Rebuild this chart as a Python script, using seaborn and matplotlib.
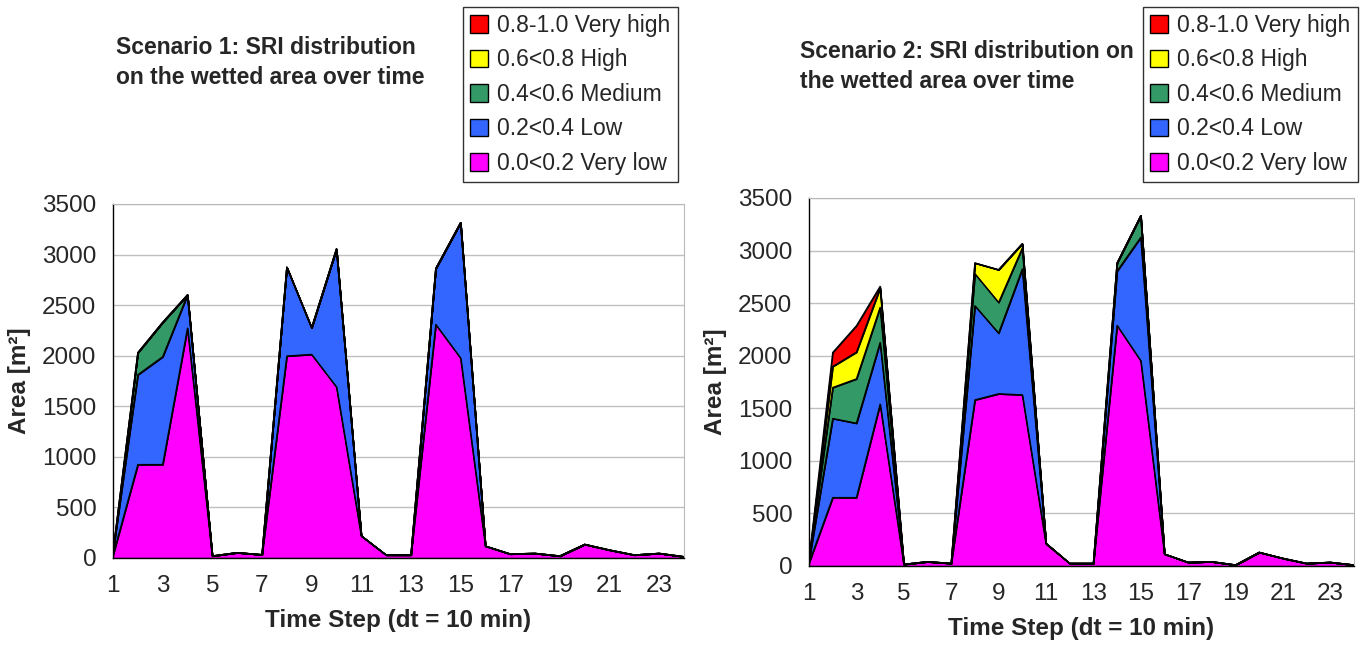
import matplotlib
matplotlib.use("Agg")
from matplotlib import pyplot as plt
from matplotlib.patches import Patch
import numpy as np
import pandas as pd
import seaborn as sns

# time steps (dt = 10 min)
steps = list(range(1, 25))

classes = ["0.0<0.2 Very low", "0.2<0.4 Low", "0.4<0.6 Medium", "0.6<0.8 High", "0.8-1.0 Very high"]
class_colors = ["#FF00FF", "#3366FF", "#339966", "#FFFF00", "#FF0000"]

# Scenario 1: area per SRI class [m2]
s1_very_low = [30, 924, 924, 2273, 20, 53, 33, 1997, 2013, 1691, 217, 30,
               30, 2309, 1977, 118, 40, 46, 20, 135, 79, 30, 46, 13]
s1_low = [30, 888, 1066, 329, 0, 0, 0, 878, 263, 1365, 3, 0,
          0, 553, 1339, 0, 0, 0, 0, 0, 0, 0, 0, 0]
s1_medium = [0, 218, 340, 0, 0, 0, 0, 0, 0, 0, 0, 0,
             0, 0, 0, 0, 0, 0, 0, 0, 0, 0, 0, 0]
s1_high = [0] * 24
s1_very_high = [0] * 24

# Scenario 2: area per SRI class [m2]
s2_very_low = [30, 651, 651, 1539, 16, 41, 25, 1580, 1638, 1628, 210, 25,
               25, 2288, 1952, 114, 35, 41, 10, 130, 73, 25, 35, 10]
s2_low = [20, 752, 707, 587, 0, 0, 0, 895, 577, 1197, 6, 0,
          0, 517, 1174, 0, 0, 0, 0, 0, 0, 0, 0, 0]
s2_medium = [10, 295, 422, 334, 0, 0, 0, 305, 292, 199, 0, 0,
             0, 77, 206, 0, 0, 0, 0, 0, 0, 0, 0, 0]
s2_high = [0, 200, 254, 184, 0, 0, 0, 102, 311, 42, 0, 0,
           0, 0, 0, 0, 0, 0, 0, 0, 0, 0, 0, 0]
s2_very_high = [0, 133, 251, 16, 0, 0, 0, 0, 0, 0, 0, 0,
                0, 0, 0, 0, 0, 0, 0, 0, 0, 0, 0, 0]

scenarios = [
    ("Scenario 1: SRI distribution\non the wetted area over time",
     [s1_very_low, s1_low, s1_medium, s1_high, s1_very_high]),
    ("Scenario 2: SRI distribution on\nthe wetted area over time",
     [s2_very_low, s2_low, s2_medium, s2_high, s2_very_high]),
]

sns.set_style("white")
plt.rcParams["font.family"] = ["Liberation Sans", "DejaVu Sans"]

W, H = 1360, 653
fig = plt.figure(figsize=(W / 100, H / 100), dpi=100)

# pixel boxes of the plot areas: (left, top, right, bottom)
boxes = [(113, 204, 684, 558), (809, 198, 1354, 566)]
title_pos = [(116, 36), (800, 40)]
legend_pos = [(463, 7), (1143, 7)]

for (title, series), box, tpos, lpos in zip(scenarios, boxes, title_pos, legend_pos):
    l, t, r, b = box
    ax = fig.add_axes([l / W, 1 - b / H, (r - l) / W, (b - t) / H])

    ax.stackplot(steps, *series, colors=class_colors, edgecolor="black", linewidth=0.9)

    # outlines of each stacked layer
    cum = np.cumsum(np.array(series), axis=0)
    df = pd.DataFrame({"step": steps})
    for i in range(cum.shape[0]):
        df["top"] = cum[i]
        sns.lineplot(data=df, x="step", y="top", color="black", linewidth=0.9, ax=ax)

    ax.set_xlim(1, 24)
    ax.set_ylim(0, 3500)
    ax.set_yticks(range(0, 3501, 500))
    ax.set_xticks(steps)
    ax.set_xticklabels([str(s) if s % 2 == 1 else "" for s in steps])
    ax.yaxis.grid(True, color="#c0c0c0", linewidth=1)
    ax.set_axisbelow(True)
    for side in ["top", "right"]:
        ax.spines[side].set_color("#b8b8b8")
    for side in ["left", "bottom"]:
        ax.spines[side].set_color("black")
        ax.spines[side].set_linewidth(1)
    ax.tick_params(axis="both", direction="out", length=6, width=1,
                   color="black", labelsize=17.5, pad=6)
    ax.set_xlabel("Time Step (dt = 10 min)", fontsize=17.5, fontweight="bold", labelpad=9)
    ax.set_ylabel("Area [m²]", fontsize=17.5, fontweight="bold", labelpad=8)

    fig.text(tpos[0] / W, 1 - tpos[1] / H, title, fontsize=16.5, fontweight="bold",
             va="top", ha="left", linespacing=1.4)

    handles = [Patch(facecolor=c, edgecolor="black", linewidth=1)
               for c in class_colors[::-1]]
    leg = fig.legend(handles, classes[::-1], loc="upper left",
                     bbox_to_anchor=(lpos[0] / W, 1 - lpos[1] / H),
                     fontsize=16.5, frameon=True, fancybox=False, borderaxespad=0,
                     handlelength=0.8, handleheight=0.8, handletextpad=0.4,
                     labelspacing=0.5, borderpad=0.3)
    leg.get_frame().set_edgecolor("black")
    leg.get_frame().set_linewidth(1)

fig.savefig("out.png", dpi=100)
